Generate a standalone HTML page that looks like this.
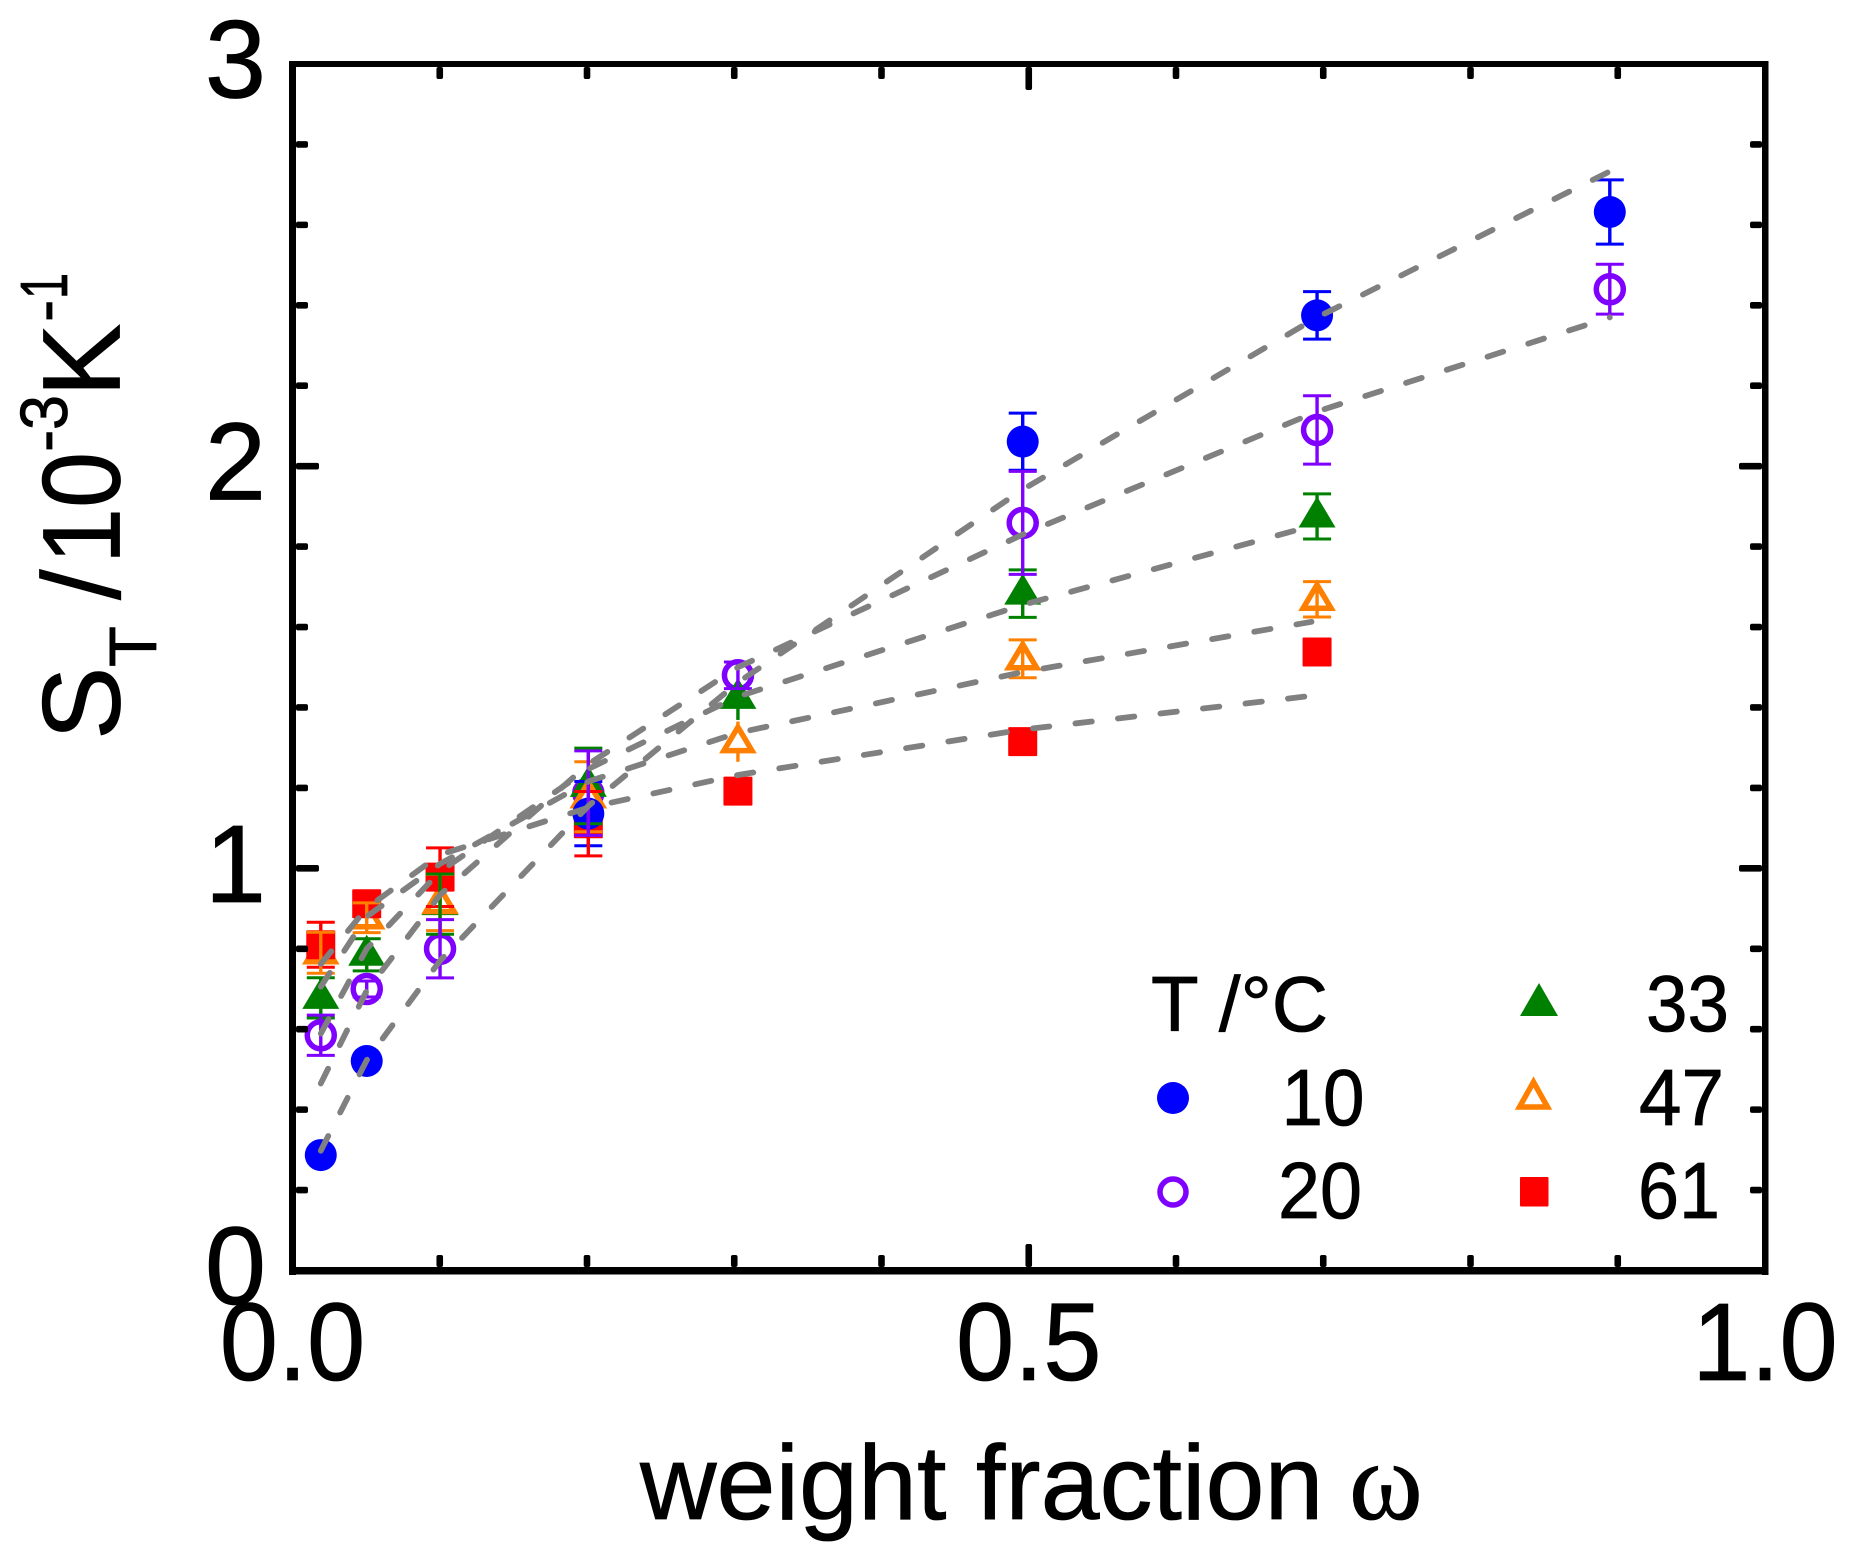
<!DOCTYPE html>
<html lang="en">
<head>
<meta charset="utf-8">
<title>Soret coefficient versus weight fraction</title>
<style>
html,body{margin:0;padding:0;background:#fff;}
svg{display:block;font-family:"Liberation Sans",sans-serif;fill:#000;}
text{stroke:#000;stroke-width:0.8px;}
</style>
</head>
<body>
<svg id="chart" xmlns="http://www.w3.org/2000/svg" width="1852" height="1560" viewBox="0 0 1852 1560">
  <rect x="0" y="0" width="1852" height="1560" fill="#fff"/>
  <g id="under-err-layer"></g>
  <g id="marks-layer"></g>
  <g id="err-layer"></g>
  <g id="fit-layer"></g>
  <g id="axes-layer"></g>
  <text x="640" y="1519" font-size="106">weight fraction</text>
  <text x="1349" y="1519" font-size="112" style="font-family:'Liberation Serif',serif">ω</text>
  <text transform="translate(119.5,0) rotate(-90)" font-size="110"><tspan x="-740" y="0">S</tspan><tspan x="-667" y="36.5" font-size="67">T</tspan><tspan x="-600" y="0">/</tspan><tspan x="-564" y="0" textLength="112" lengthAdjust="spacingAndGlyphs">10</tspan><tspan x="-452" y="-52.5" font-size="67">-</tspan><tspan x="-430" y="-52.5" font-size="67" textLength="35" lengthAdjust="spacingAndGlyphs">3</tspan><tspan x="-397" y="0">K</tspan><tspan x="-322" y="-52.5" font-size="67">-</tspan><tspan x="-299" y="-52.5" font-size="67" textLength="26" lengthAdjust="spacingAndGlyphs">1</tspan></text>
  <g id="legend">
    <text x="1151" y="1031" font-size="78">T /°C</text>
    <circle cx="1173" cy="1098" r="16" fill="#0000ff"/>
    <text x="1281.5" y="1125" font-size="80" textLength="83" lengthAdjust="spacingAndGlyphs">10</text>
    <circle cx="1173" cy="1192" r="13" fill="#fff" stroke="#8000ff" stroke-width="5.5"/>
    <text x="1278" y="1218" font-size="80" textLength="84" lengthAdjust="spacingAndGlyphs">20</text>
    <polygon points="1539,983 1558,1016 1520,1016" fill="#008000"/>
    <text x="1646" y="1031" font-size="80" textLength="83" lengthAdjust="spacingAndGlyphs">33</text>
    <polygon points="1533.5,1082 1547.5,1107 1519.5,1107" fill="#fff" stroke="#ff8000" stroke-width="5.5"/>
    <text x="1639" y="1125" font-size="80" textLength="85" lengthAdjust="spacingAndGlyphs">47</text>
    <rect x="1520" y="1177" width="28.5" height="29.5" rx="1" fill="#ff0000"/>
    <text x="1638" y="1218" font-size="80" textLength="82" lengthAdjust="spacingAndGlyphs">61</text>
  </g>
</svg>
<script>
// ---- chart data ----
const omegaColumns = [0.0192, 0.0504, 0.1002, 0.2009, 0.3025, 0.4959, 0.6958, 0.8946];

const st10 = [0.287, 0.521, null, 1.136, null, 2.061, 2.375, 2.632];
const err10 = [0, 0, null, 0.08, null, 0.071, 0.059, 0.08];
const st20 = [0.585, 0.70, 0.80, 1.187, 1.48, 1.859, 2.09, 2.44];
const err20 = [0.05, 0.02, 0.0725, 0.105, 0.033, 0.128, 0.085, 0.062];
const st33 = [0.678, 0.785, 0.911, 1.205, 1.424, 1.683, 1.875, null];
const err33 = [0.05, 0.04, 0.075, 0.094, 0.055, 0.059, 0.056, null];
const caps33 = [true, true, true, true, false, true, true, null];
const st47 = [0.79, 0.877, 0.915, 1.178, 1.315, 1.521, 1.669, null];
const err47 = [0.051, 0.037, 0.07, 0.087, 0.05, 0.047, 0.044, null];
const caps47 = [true, true, true, true, false, true, true, null];
const st61 = [0.81, 0.912, 0.978, 1.111, 1.192, 1.315, 1.538, null];
const err61 = [0.056, 0, 0.073, 0.08, 0, 0, 0, null];

const fitOmega10 = [0.0192, 0.0504, 0.1002, 0.2009, 0.3025, 0.4959, 0.6958, 0.8946];
const fitValues10 = [0.298, 0.523, 0.77, 1.155, 1.462, 1.942, 2.37, 2.733];
const fitOmega20 = [0.0192, 0.0504, 0.1002, 0.2009, 0.3025, 0.4959, 0.6958, 0.8946];
const fitValues20 = [0.465, 0.696, 0.934, 1.259, 1.50, 1.83, 2.136, 2.37];
const fitOmega33 = [0.0192, 0.0504, 0.1002, 0.2009, 0.3025, 0.4959, 0.693];
const fitValues33 = [0.589, 0.80, 0.992, 1.247, 1.427, 1.655, 1.852];
const fitOmega47 = [0.0192, 0.0504, 0.1002, 0.2009, 0.3025, 0.4959, 0.692];
const fitValues47 = [0.706, 0.88, 1.011, 1.216, 1.337, 1.488, 1.613];
const fitOmega61 = [0.0192, 0.0504, 0.1002, 0.2009, 0.3025, 0.4959, 0.6875];
const fitValues61 = [0.762, 0.901, 1.034, 1.151, 1.232, 1.345, 1.427];

const xTickLabels = ["0.0", "0.5", "1.0"];
const xLabelValues = [0, 0.5, 1];
const yTickLabels = ["0", "1", "2", "3"];
const yLabelValues = [0, 1, 2, 3];
const xMinorTicks = [0.1, 0.2, 0.3, 0.4, 0.6, 0.7, 0.8, 0.9];
const yMinorTicks = [0.2, 0.4, 0.6, 0.8, 1.2, 1.4, 1.6, 1.8, 2.2, 2.4, 2.6, 2.8];

// ---- scales ----
const plotLeft = 292.5, plotRight = 1765, plotTop = 64, plotBottom = 1270.5;
function xScale(w) { return plotLeft + w * (plotRight - plotLeft); }
function yScale(v) { return plotBottom - (v / 3) * (plotBottom - plotTop); }

const NS = "http://www.w3.org/2000/svg";
function mk(tag, parent, attrs) {
  const el = document.createElementNS(NS, tag);
  for (const k in attrs) el.setAttribute(k, attrs[k]);
  parent.appendChild(el);
  return el;
}
const underErrLayer = document.getElementById("under-err-layer");
const marksLayer = document.getElementById("marks-layer");
const errLayer = document.getElementById("err-layer");
const fitLayer = document.getElementById("fit-layer");
const axesLayer = document.getElementById("axes-layer");

// ---- markers ----
function drawCircleFilled(i, v, color) {
  const el = mk("circle", marksLayer, { cx: xScale(omegaColumns[i]), cy: yScale(v), r: 16, fill: color });
  
  
}
function drawCircleOpen(i, v, color) {
  const el = mk("circle", marksLayer, { cx: xScale(omegaColumns[i]), cy: yScale(v), r: 13.5, fill: "#fff", stroke: color, "stroke-width": 5.5 });
  
  
}
function drawTriFilled(i, v, color) {
  const x = xScale(omegaColumns[i]), y = yScale(v);
  const pts = [x, y - 20, x + 18.5, y + 11, x - 18.5, y + 11].join(" ");
  const el = mk("polygon", marksLayer, { points: pts, fill: color });
  
  
}
function drawTriOpen(i, v, color) {
  const x = xScale(omegaColumns[i]), y = yScale(v);
  const pts = [x, y - 14.5, x + 14, y + 9, x - 14, y + 9].join(" ");
  const el = mk("polygon", marksLayer, { points: pts, fill: "#fff", stroke: color, "stroke-width": 5.5 });
  
  
}
function drawSquare(i, v, color) {
  const x = xScale(omegaColumns[i]), y = yScale(v);
  const el = mk("rect", marksLayer, { x: x - 14.5, y: y - 14.5, width: 29, height: 29, rx: 1, fill: color });
  
  
}

function drawErr(i, v, e, color, capped) {
  if (!e) return;
  const x = xScale(omegaColumns[i]);
  const y1 = yScale(v + e), y2 = yScale(v - e);
  const g = mk("g", capped ? errLayer : underErrLayer, { stroke: color, fill: "none" });
  
  
  mk("line", g, { x1: x, x2: x, y1: y1, y2: y2, "stroke-width": 3.4 });
  if (capped) {
    mk("line", g, { x1: x - 14, x2: x + 14, y1: y1, y2: y1, "stroke-width": 3 });
    mk("line", g, { x1: x - 14, x2: x + 14, y1: y2, y2: y2, "stroke-width": 3 });
  }
}

const markerOrder = [
  { values: st20, color: "#8000ff", draw: drawCircleOpen },
  { values: st33, color: "#008000", draw: drawTriFilled },
  { values: st47, color: "#ff8000", draw: drawTriOpen },
  { values: st61, color: "#ff0000", draw: drawSquare },
  { values: st10, color: "#0000ff", draw: drawCircleFilled }
];
markerOrder.forEach(function (s) {
  s.values.forEach(function (v, i) {
    if (v !== null) s.draw(i, v, s.color);
  });
});
[
  { values: st10, errs: err10, color: "#0000ff" },
  { values: st61, errs: err61, color: "#ff0000" },
  { values: st47, errs: err47, color: "#ff8000", caps: caps47 },
  { values: st33, errs: err33, color: "#008000", caps: caps33 },
  { values: st20, errs: err20, color: "#8000ff" }
].forEach(function (s) {
  s.values.forEach(function (v, i) {
    if (v !== null) drawErr(i, v, s.errs[i], s.color, s.caps ? s.caps[i] : true);
  });
});

// ---- fit lines ----
[
  [fitOmega61, fitValues61],
  [fitOmega47, fitValues47],
  [fitOmega33, fitValues33],
  [fitOmega20, fitValues20],
  [fitOmega10, fitValues10]
].forEach(function (f) {
  const pts = f[0].map(function (w, i) { return xScale(w).toFixed(1) + "," + yScale(f[1][i]).toFixed(1); }).join(" ");
  const el = mk("polyline", fitLayer, { points: pts, fill: "none", stroke: "#808080", "stroke-width": 5.8, "stroke-dasharray": "16.5 26.3", "stroke-linecap": "round", "stroke-linejoin": "round" });
  
  
});

// ---- axes ----
function frameBar(x, y, w, h) {
  const el = mk("rect", axesLayer, { x: x, y: y, width: w, height: h, fill: "#000" });
  
  
}
frameBar(289, 61, 7, 1214);
frameBar(1762, 61, 6.5, 1214);
frameBar(289, 61, 1479.5, 6);
frameBar(289, 1267, 1479.5, 7.5);

function xTick(w, len) {
  const x = xScale(w);
  const a = mk("rect", axesLayer, { x: x - 3.3, y: 1267 - len, width: 6.6, height: len, rx: 2, fill: "#000" });
  
  
  const b = mk("rect", axesLayer, { x: x - 3.3, y: 67, width: 6.6, height: len, rx: 2, fill: "#000" });
  
  
}
function yTick(v, len) {
  const y = yScale(v);
  const a = mk("rect", axesLayer, { x: 296, y: y - 3.3, width: len, height: 6.6, rx: 2, fill: "#000" });
  
  
  const b = mk("rect", axesLayer, { x: 1762 - len, y: y - 3.3, width: len, height: 6.6, rx: 2, fill: "#000" });
  
  
}
xMinorTicks.forEach(function (w) { xTick(w, 12); });
xTick(0.5, 23);
yMinorTicks.forEach(function (v) { yTick(v, 12); });
yTick(1, 23);
yTick(2, 23);

xTickLabels.forEach(function (label, i) {
  const t = mk("text", axesLayer, { x: xScale(xLabelValues[i]), y: 1380, "font-size": 110, "text-anchor": "middle", textLength: 145.5, lengthAdjust: "spacingAndGlyphs" });
  t.textContent = label;
  
  
});
yTickLabels.forEach(function (label, i) {
  const t = mk("text", axesLayer, { x: 266, y: yScale(yLabelValues[i]) + 33.5, "font-size": 110, "text-anchor": "end" });
  t.textContent = label;
  
  
});
</script>
</body>
</html>
